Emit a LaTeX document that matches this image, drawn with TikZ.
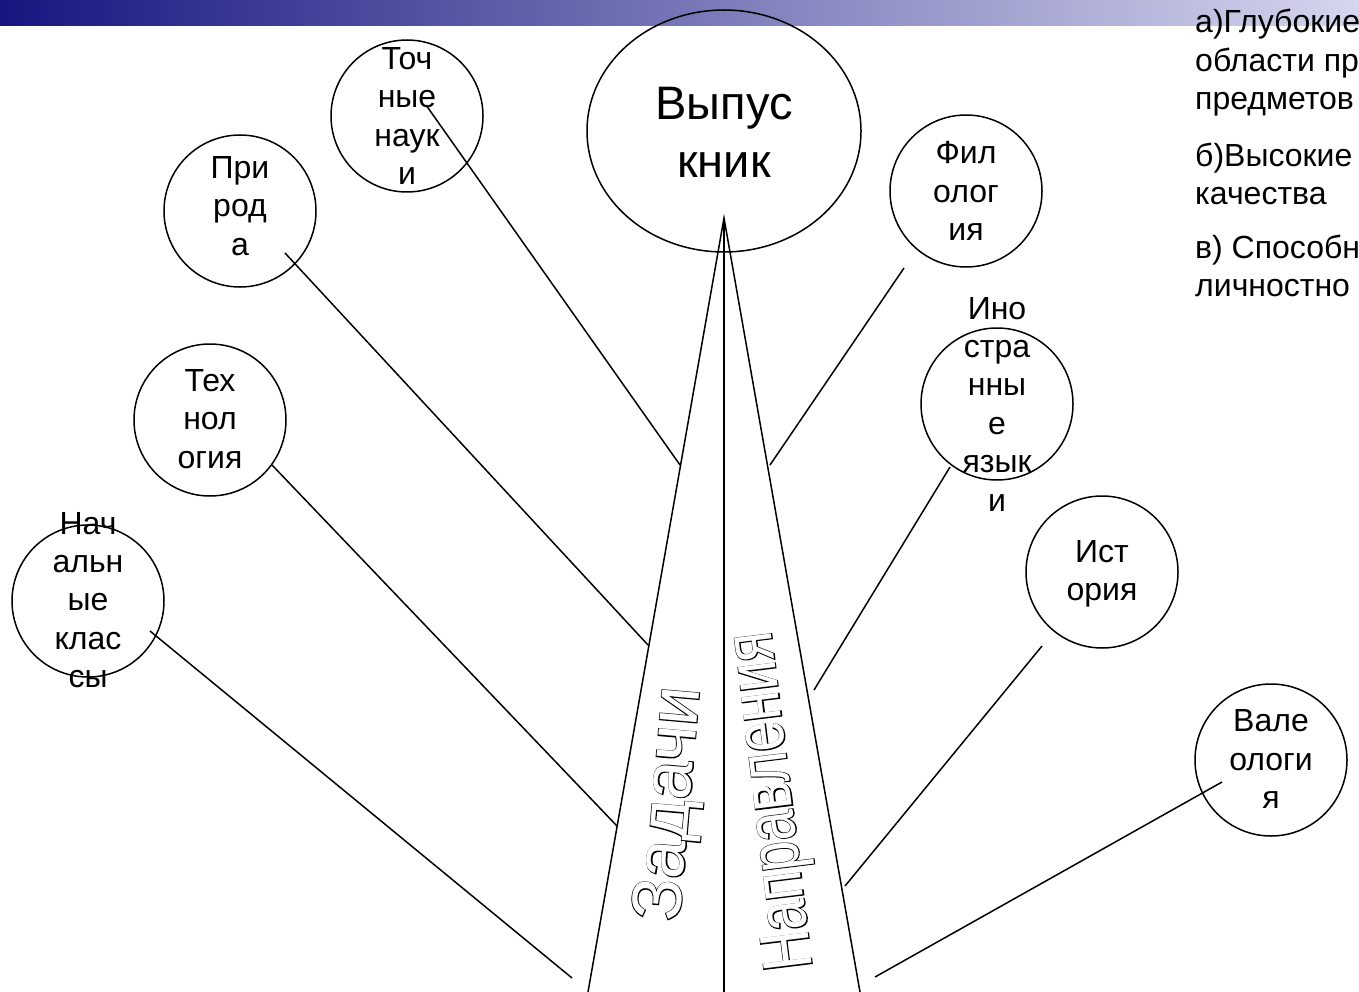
\documentclass[tikz,border=0pt]{standalone}
\usepackage{fontspec}
\setmainfont{Liberation Sans}
\newfontfamily\waB[FakeBold=2.5]{Liberation Sans}
\usetikzlibrary{shapes.geometric}
\definecolor{barL}{RGB}{22,22,128}
\definecolor{barR}{RGB}{214,214,238}
\newcommand{\hollow}[1]{\rlap{\waB\color{black}#1}{\color{white}#1}}
\begin{document}
\begin{tikzpicture}[x=1pt,y=-1pt,
  bub/.style={circle,draw,line width=1.5pt,minimum size=152pt,inner sep=0pt},
  lbl/.style={align=center,inner sep=0pt,font=\fontsize{32}{38.4}\selectfont},
  conn/.style={line width=1.5pt},
  side/.style={align=left,inner sep=0pt,anchor=north west,font=\fontsize{32}{38.4}\selectfont},
  wa/.style={inner sep=0pt,font=\fontsize{70}{70}\selectfont}]
\clip (0,0) rectangle (1359,992);
\shade[left color=barL,right color=barR] (0,0) rectangle (1359,26);

% central ellipse
\node[ellipse,draw,line width=1.5pt,minimum width=274pt,minimum height=242pt,inner sep=0pt] (vyp) at (724,131) {};
\node[align=center,inner sep=0pt,font=\fontsize{47}{58}\selectfont] (vypt) at (724,132) {Выпус\\кник};

% spike
\coordinate (apex) at (724,218);
\coordinate (bl) at (588,992);
\coordinate (bm) at (724,992);
\coordinate (br) at (860,992);
\draw[conn] (bl) -- (apex) -- (br);
\draw[conn] (apex) -- (bm);

% circles
\node[bub] (toch) at (407,116) {};
\node[bub] (prir) at (240,211) {};
\node[bub] (tech) at (210,420) {};
\node[bub] (nach) at (88,601) {};
\node[bub] (fil) at (966,191) {};
\node[bub] (ino) at (997,404) {};
\node[bub] (ist) at (1102,572) {};
\node[bub] (val) at (1271,760) {};

% labels
\node[lbl] (tocht) at (407,116) {Точ\\ные\\наук\\и};
\node[lbl] (prirt) at (240,206) {При\\род\\а};
\node[lbl] (techt) at (210,419) {Тех\\нол\\огия};
\node[lbl] (nacht) at (88,600) {Нач\\альн\\ые\\клас\\сы};
\node[lbl] (filt) at (966,191) {Фил\\олог\\ия};
\node[lbl] (inot) at (997,404) {Ино\\стра\\нны\\е\\язык\\и};
\node[lbl] (istt) at (1102,574) {Ист\\ория};
\node[lbl] (valt) at (1271,759) {Вале\\ологи\\я};

% connector ends
\coordinate (tA) at (426,105);  \coordinate (sA) at (680,465);
\coordinate (pA) at (285,253);  \coordinate (sB) at (648,645);
\coordinate (eA) at (272,465);  \coordinate (sC) at (617,826);
\coordinate (nA) at (150,631);  \coordinate (sD) at (572,978);
\coordinate (fA) at (904,268);  \coordinate (sE) at (770,465);
\coordinate (iA) at (950,467);  \coordinate (sF) at (814,690);
\coordinate (hA) at (1042,646); \coordinate (sG) at (845,886);
\coordinate (vA) at (1222,782); \coordinate (sH) at (875,977);
\draw[conn] (tA) -- (sA);
\draw[conn] (pA) -- (sB);
\draw[conn] (eA) -- (sC);
\draw[conn] (nA) -- (sD);
\draw[conn] (fA) -- (sE);
\draw[conn] (iA) -- (sF);
\draw[conn] (hA) -- (sG);
\draw[conn] (vA) -- (sH);

% spike texts
\node[wa,rotate=85] (zad) at (672,804) {\hollow{Задачи}};
\node[wa,rotate=97] (napr) at (775,801) {\scalebox{0.78}[1]{\hollow{Направления}}};

% side text
\node[side] (pa) at (1195,9) {а)Глубокие\\области пр\\предметов};
\node[side] (pb) at (1195,142.5) {б)Высокие\\качества};
\node[side] (pc) at (1195,234.5) {в) Способн\\личностно};
\end{tikzpicture}
\end{document}
